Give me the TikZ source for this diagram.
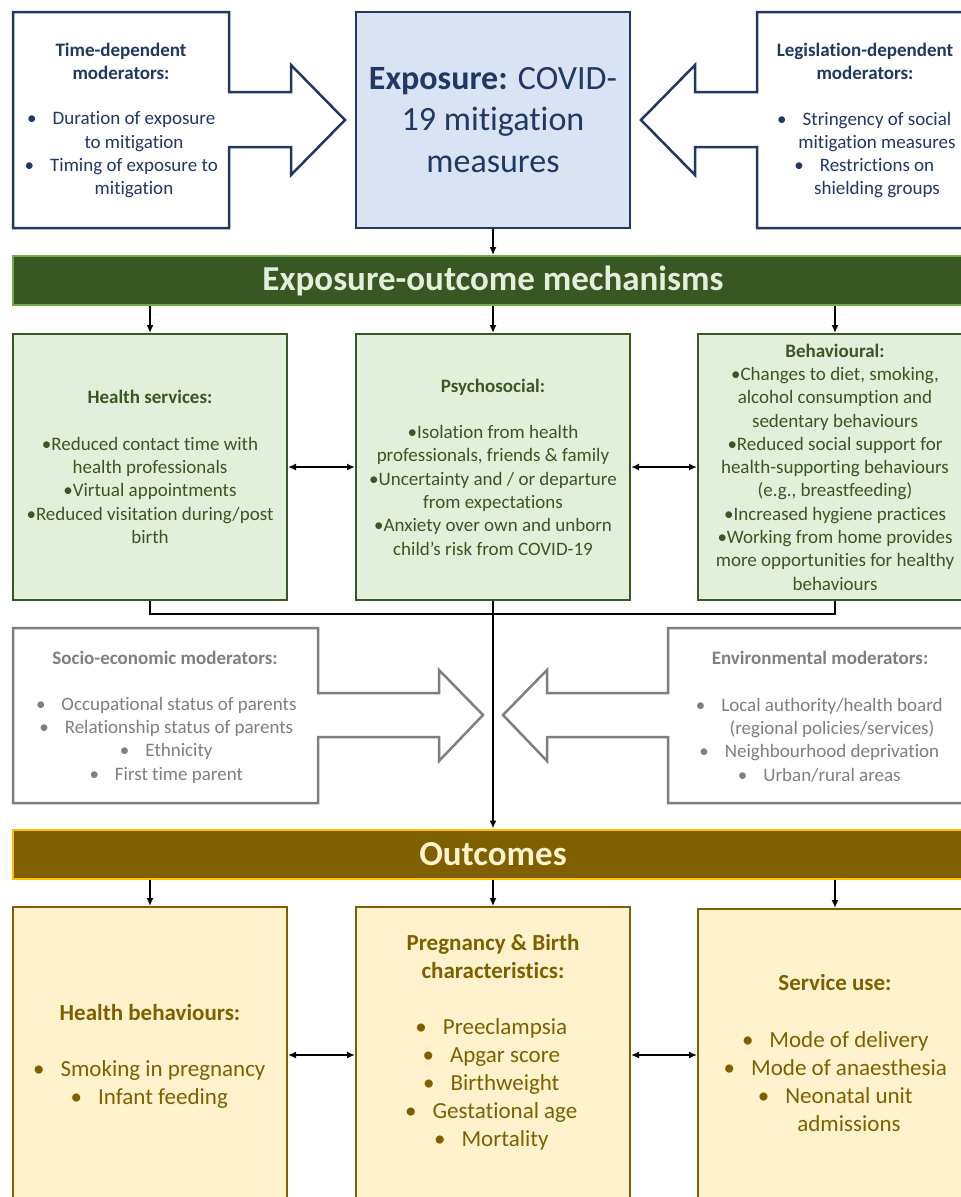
\documentclass[tikz,border=0pt]{standalone}
\usepackage{fontspec}
\setmainfont{Carlito}[Ligatures=NoCommon]
\usetikzlibrary{arrows.meta}

\definecolor{navy}{HTML}{1F3864}
\definecolor{expfill}{HTML}{DAE3F3}
\definecolor{mechdark}{HTML}{385723}
\definecolor{mechlight}{HTML}{E2EFDA}
\definecolor{mechedge}{HTML}{70AD47}
\definecolor{modgrey}{HTML}{7F7F7F}
\definecolor{outdark}{HTML}{7F6000}
\definecolor{outlight}{HTML}{FFF2CC}
\definecolor{outedge}{HTML}{FFC000}

\newcommand{\bul}{\llap{\textbullet\hspace{16pt}}}

\begin{document}
\begin{tikzpicture}[x=1pt,y=-1pt,line width=1.8pt,
  link/.style={-{Latex[length=8pt,width=7pt]}},
  twoway/.style={{Latex[length=8pt,width=7pt]}-{Latex[length=8pt,width=7pt]}},
  txt/.style={align=center,inner sep=0pt,font=\fontsize{19}{23.3}\selectfont},
  hd/.style={align=center,inner sep=0pt,font=\fontsize{19}{23.3}\selectfont\bfseries},
  bigtxt/.style={align=center,inner sep=0pt,font=\fontsize{23}{28}\selectfont},
  bighd/.style={align=center,inner sep=0pt,font=\fontsize{23}{28}\selectfont\bfseries},
  modline/.style={line width=2.5pt,fill=white},
  bar/.style={minimum width=960pt,minimum height=49pt,line width=2pt,inner sep=0pt,font=\fontsize{35}{40}\selectfont\bfseries},
  mech/.style={txt,draw=mechdark,fill=mechlight,line width=2pt,minimum width=274pt,minimum height=266pt,text=mechdark},
  outbox/.style={draw=outdark,fill=outlight,line width=2pt,minimum width=274pt,minimum height=300pt,anchor=north}]
\useasboundingbox (0,0) rectangle (961,1197);

% exposure and its moderators
\draw[modline,draw=navy] (13,12) -- (229,12) -- (229,92) -- (291,92) -- (291,65) -- (345,120) -- (291,175) -- (291,147) -- (229,147) -- (229,228) -- (13,228) -- cycle;
\draw[modline,draw=navy] (973,12) -- (757,12) -- (757,92) -- (695,92) -- (695,65) -- (641,120) -- (695,175) -- (695,147) -- (757,147) -- (757,228) -- (973,228) -- cycle;
\node[hd,text=navy] (timehd) at (121,61.5) {Time-dependent\\moderators:};
\node[txt,text=navy] (timels) at (134,155) {\bul Duration of exposure\\to mitigation\\\bul Timing of exposure to\\mitigation};
\node[hd,text=navy] (leghd) at (865,61.5) {Legislation-dependent\\moderators:};
\node[txt,text=navy] (legls) at (877,155) {\bul Stringency of social\\mitigation measures\\\bul Restrictions on\\shielding groups};
\node[draw=navy,fill=expfill,line width=2.5pt,minimum width=274pt,minimum height=216pt,align=center,text=navy,font=\fontsize{34}{41.5}\selectfont] (expo) at (493,120) {\textbf{Exposure:} COVID-\\19 mitigation\\measures};

% mechanisms
\node[bar,draw=mechedge,fill=mechdark,text=mechlight] (mechbar) at (493,280.5) {Exposure-outcome mechanisms};
\draw[link] (expo) -- (mechbar);
\node[mech] (hserv) at (150,467) {\textbf{Health services:}\\[23.3pt]\textbullet Reduced contact time with\\health professionals\\\textbullet Virtual appointments\\\textbullet Reduced visitation during/post\\birth};
\node[mech] (psych) at (493,467) {\textbf{Psychosocial:}\\[23.3pt]\textbullet Isolation from health\\professionals, friends \& family\\\textbullet Uncertainty and / or departure\\from expectations\\\textbullet Anxiety over own and unborn\\child’s risk from COVID-19};
\node[mech] (behav) at (835,467) {\textbf{Behavioural:}\\\textbullet Changes to diet, smoking,\\alcohol consumption and\\sedentary behaviours\\\textbullet Reduced social support for\\health-supporting behaviours\\(e.g., breastfeeding)\\\textbullet Increased hygiene practices\\\textbullet Working from home provides\\more opportunities for healthy\\behaviours};
\foreach \b in {hserv,psych,behav}
  \draw[link] (mechbar.south -| \b) -- (\b.north);
\draw[twoway] (hserv) -- (psych);
\draw[twoway] (psych) -- (behav);

% moderators of the outcomes
\draw[modline,draw=modgrey] (13,628) -- (318,628) -- (318,693) -- (439,693) -- (439,670) -- (483,715) -- (439,761) -- (439,737) -- (318,737) -- (318,803) -- (13,803) -- cycle;
\draw[modline,draw=modgrey] (973,628) -- (668,628) -- (668,693) -- (547,693) -- (547,670) -- (503,715) -- (547,761) -- (547,737) -- (668,737) -- (668,803) -- (973,803) -- cycle;
\node[hd,text=modgrey] (seshd) at (165,658) {Socio-economic moderators:};
\node[txt,text=modgrey] (sesls) at (179,740) {\bul Occupational status of parents\\\bul Relationship status of parents\\\bul Ethnicity\\\bul First time parent};
\node[hd,text=modgrey] (envhd) at (820,658) {Environmental moderators:};
\node[txt,text=modgrey] (envls) at (832,740) {\bul Local authority/health board\\(regional policies/services)\\\bul Neighbourhood deprivation\\\bul Urban/rural areas};

% outcomes
\node[bar,draw=outedge,fill=outdark,text=outlight] (outbar) at (493,854) {Outcomes};
\coordinate (join) at (493,614);
\draw (hserv.south) |- (join) -| (behav.south);
\draw[link] (psych.south) -- (outbar.north);
\node[outbox] (hbeh) at (150,906) {};
\node[outbox] (preg) at (493,906) {};
\node[outbox] (serv) at (835,908) {};
\foreach \b in {hbeh,preg,serv}
  \draw[link] (outbar.south -| \b) -- (\b.north);
\coordinate (level) at (0,1055);
\draw[twoway] (hbeh.east |- level) -- (preg.west |- level);
\draw[twoway] (preg.east |- level) -- (serv.west |- level);
\node[bighd,text=outdark] (hbehhd) at (150,1013) {Health behaviours:};
\node[bigtxt,text=outdark] (hbehls) at (163,1084) {\bul Smoking in pregnancy\\\bul Infant feeding};
\node[bighd,text=outdark] (preghd) at (493,957) {Pregnancy \& Birth\\characteristics:};
\node[bigtxt,text=outdark] (pregls) at (505,1084) {\bul Preeclampsia\\\bul Apgar score\\\bul Birthweight\\\bul Gestational age\\\bul Mortality};
\node[bighd,text=outdark] (servhd) at (835,983) {Service use:};
\node[bigtxt,text=outdark] (servls) at (849,1082) {\bul Mode of delivery\\\bul Mode of anaesthesia\\\bul Neonatal unit\\admissions};
\end{tikzpicture}
\end{document}
